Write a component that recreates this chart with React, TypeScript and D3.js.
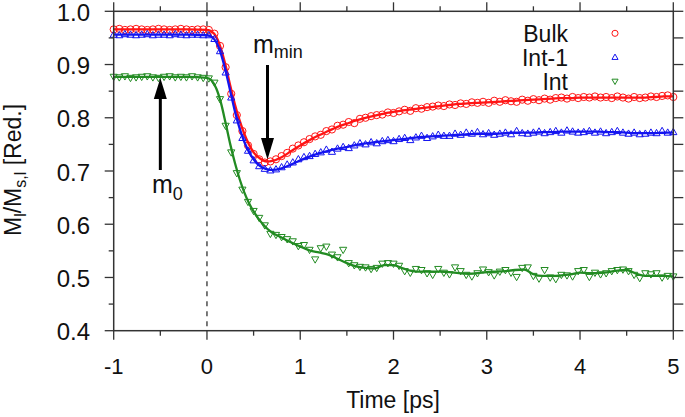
import React from 'react';
import * as d3 from 'd3';

// ---------- data ----------
const time = [
  -1.00, -0.94, -0.88, -0.82, -0.76, -0.70, -0.64, -0.58, -0.52, -0.46,
  -0.40, -0.34, -0.28, -0.22, -0.16, -0.10, -0.04, 0.02, 0.08, 0.14,
  0.20, 0.26, 0.32, 0.38, 0.44, 0.50, 0.56, 0.62, 0.68, 0.74,
  0.80, 0.86, 0.92, 0.98, 1.04, 1.10, 1.16, 1.22, 1.28, 1.34,
  1.40, 1.46, 1.52, 1.58, 1.64, 1.70, 1.76, 1.82, 1.88, 1.94,
  2.00, 2.06, 2.12, 2.18, 2.24, 2.30, 2.36, 2.42, 2.48, 2.54,
  2.60, 2.66, 2.72, 2.78, 2.84, 2.90, 2.96, 3.02, 3.08, 3.14,
  3.20, 3.26, 3.32, 3.38, 3.44, 3.50, 3.56, 3.62, 3.68, 3.74,
  3.80, 3.86, 3.92, 3.98, 4.04, 4.10, 4.16, 4.22, 4.28, 4.34,
  4.40, 4.46, 4.52, 4.58, 4.64, 4.70, 4.76, 4.82, 4.88, 4.94,
  5.00,
];

const bulkPts = [
  0.966, 0.967, 0.965, 0.966, 0.967, 0.966, 0.965, 0.966, 0.967, 0.966,
  0.965, 0.966, 0.967, 0.966, 0.965, 0.966, 0.966, 0.965, 0.958, 0.935,
  0.895, 0.845, 0.805, 0.775, 0.748, 0.732, 0.722, 0.716, 0.718, 0.722,
  0.728, 0.734, 0.742, 0.748, 0.754, 0.760, 0.765, 0.768, 0.775, 0.778,
  0.785, 0.787, 0.792, 0.790, 0.798, 0.800, 0.803, 0.805, 0.806, 0.810,
  0.809, 0.812, 0.815, 0.813, 0.818, 0.817, 0.820, 0.821, 0.823, 0.822,
  0.825, 0.824, 0.827, 0.826, 0.829, 0.828, 0.830, 0.828, 0.832, 0.830,
  0.833, 0.831, 0.830, 0.834, 0.832, 0.835, 0.833, 0.836, 0.834, 0.837,
  0.838, 0.836, 0.839, 0.837, 0.839, 0.838, 0.840, 0.838, 0.839, 0.837,
  0.840, 0.838, 0.836, 0.839, 0.837, 0.838, 0.840, 0.839, 0.841, 0.842,
  0.839,
];

const int1Pts = [
  0.956, 0.955, 0.957, 0.956, 0.955, 0.956, 0.957, 0.955, 0.956, 0.956,
  0.955, 0.957, 0.956, 0.955, 0.956, 0.956, 0.955, 0.955, 0.948, 0.925,
  0.885, 0.838, 0.795, 0.762, 0.738, 0.720, 0.709, 0.704, 0.701, 0.703,
  0.707, 0.712, 0.716, 0.722, 0.726, 0.728, 0.732, 0.735, 0.740, 0.736,
  0.742, 0.745, 0.743, 0.748, 0.752, 0.750, 0.754, 0.752, 0.756, 0.758,
  0.756, 0.760, 0.762, 0.758, 0.763, 0.766, 0.762, 0.765, 0.768, 0.766,
  0.766, 0.770, 0.768, 0.772, 0.770, 0.773, 0.769, 0.771, 0.768, 0.770,
  0.772, 0.769, 0.775, 0.771, 0.770, 0.772, 0.774, 0.771, 0.773, 0.775,
  0.772, 0.776, 0.774, 0.772, 0.773, 0.775, 0.772, 0.774, 0.771, 0.773,
  0.775, 0.772, 0.770, 0.772, 0.769, 0.770, 0.772, 0.771, 0.775, 0.772,
  0.773,
];

const intPts = [
  0.877, 0.876, 0.878, 0.875, 0.876, 0.877, 0.878, 0.876, 0.875, 0.877,
  0.878, 0.876, 0.877, 0.876, 0.878, 0.876, 0.875, 0.874, 0.866, 0.835,
  0.785, 0.735, 0.696, 0.665, 0.642, 0.625, 0.612, 0.598, 0.582, 0.580,
  0.576, 0.572, 0.568, 0.559, 0.561, 0.552, 0.534, 0.555, 0.558, 0.543,
  0.538, 0.552, 0.527, 0.523, 0.520, 0.519, 0.516, 0.518, 0.526, 0.527,
  0.526, 0.522, 0.512, 0.509, 0.516, 0.514, 0.508, 0.505, 0.516, 0.509,
  0.506, 0.519, 0.512, 0.505, 0.502, 0.508, 0.515, 0.510, 0.504, 0.511,
  0.514, 0.509, 0.501, 0.518, 0.519, 0.503, 0.498, 0.514, 0.500, 0.497,
  0.505, 0.504, 0.502, 0.512, 0.514, 0.501, 0.509, 0.506, 0.508, 0.512,
  0.514, 0.515, 0.512, 0.505, 0.499, 0.508, 0.506, 0.508, 0.500, 0.503,
  0.502,
];

const fitTime = [
  -1, -0.5, -0.2, 0, 0.05, 0.1, 0.15, 0.2, 0.25, 0.3, 0.35, 0.4, 0.45, 0.5,
  0.55, 0.6, 0.65, 0.7, 0.8, 0.9, 1.0, 1.1, 1.2, 1.3, 1.4, 1.5, 1.6, 1.7,
  1.8, 1.9, 2.0, 2.1, 2.2, 2.3, 2.4, 2.5, 2.6, 2.7, 2.8, 2.9, 3.0, 3.1,
  3.2, 3.3, 3.4, 3.5, 3.6, 3.7, 3.8, 3.9, 4.0, 4.1, 4.2, 4.3, 4.4, 4.5,
  4.6, 4.7, 4.8, 4.9, 5.0,
];

const bulkFit = [
  0.966, 0.966, 0.966, 0.965, 0.962, 0.952, 0.930, 0.898, 0.860, 0.825, 0.795, 0.770, 0.750, 0.735,
  0.726, 0.720, 0.718, 0.719, 0.726, 0.737, 0.748, 0.758, 0.767, 0.775, 0.783, 0.789, 0.795, 0.800,
  0.804, 0.808, 0.811, 0.814, 0.816, 0.818, 0.820, 0.822, 0.824, 0.826, 0.827, 0.828, 0.829, 0.830,
  0.831, 0.832, 0.833, 0.834, 0.835, 0.836, 0.837, 0.837, 0.838, 0.838, 0.838, 0.838, 0.838, 0.838,
  0.838, 0.838, 0.839, 0.840, 0.840,
];

const int1Fit = [
  0.956, 0.956, 0.956, 0.955, 0.952, 0.942, 0.920, 0.888, 0.850, 0.812, 0.780, 0.755, 0.736, 0.722,
  0.712, 0.706, 0.703, 0.702, 0.705, 0.712, 0.720, 0.727, 0.733, 0.738, 0.742, 0.745, 0.749, 0.752,
  0.754, 0.756, 0.758, 0.760, 0.762, 0.764, 0.765, 0.766, 0.767, 0.768, 0.769, 0.770, 0.770, 0.770,
  0.771, 0.772, 0.772, 0.772, 0.773, 0.773, 0.774, 0.774, 0.774, 0.774, 0.774, 0.773, 0.773, 0.772,
  0.771, 0.771, 0.771, 0.772, 0.772,
];

const intFit = [
  0.877, 0.877, 0.877, 0.875, 0.870, 0.855, 0.828, 0.790, 0.750, 0.715, 0.685, 0.660, 0.640, 0.624,
  0.611, 0.600, 0.591, 0.584, 0.575, 0.566, 0.558, 0.551, 0.547, 0.543, 0.535, 0.527, 0.521, 0.518,
  0.517, 0.523, 0.523, 0.517, 0.512, 0.511, 0.511, 0.511, 0.510, 0.508, 0.507, 0.508, 0.510, 0.511,
  0.512, 0.514, 0.515, 0.506, 0.503, 0.503, 0.504, 0.506, 0.509, 0.508, 0.508, 0.510, 0.513, 0.514,
  0.507, 0.503, 0.503, 0.503, 0.502,
];

const xTicks = [-1, 0, 1, 2, 3, 4, 5];
const xMinor = [-0.5, 0.5, 1.5, 2.5, 3.5, 4.5];
const yTicks = [0.4, 0.5, 0.6, 0.7, 0.8, 0.9, 1.0];
const yMinor = [0.45, 0.55, 0.65, 0.75, 0.85, 0.95];
const seriesNames = ['Bulk', 'Int-1', 'Int'];
const seriesColors = ['#ff1414', '#1414f0', '#228b22'];

const FONT = '"Liberation Sans", Arial, Helvetica, sans-serif';

function Marker({ kind, cx, cy, color, s = 1 }: { kind: number; cx: number; cy: number; color: string; s?: number }) {
  if (kind === 0) return <circle cx={cx} cy={cy} r={3.6 * s} fill="none" stroke={color} strokeWidth={1} />;
  if (kind === 1)
    return (
      <path
        d={`M${cx},${cy - 3.8 * s}L${cx + 3.6 * s},${cy + 2.5 * s}L${cx - 3.6 * s},${cy + 2.5 * s}Z`}
        fill="none"
        stroke={color}
        strokeWidth={1}
      />
    );
  return (
    <path
      d={`M${cx},${cy + 3.8 * s}L${cx + 3.6 * s},${cy - 2.5 * s}L${cx - 3.6 * s},${cy - 2.5 * s}Z`}
      fill="none"
      stroke={color}
      strokeWidth={1}
    />
  );
}

export default function App() {
  const W = 685, H = 417;
  const x = d3.scaleLinear().domain([-1, 5]).range([113.7, 673.3]);
  const y = d3.scaleLinear().domain([0.4, 1.0]).range([330.7, 11.3]);
  const [xl, xr] = x.range();
  const [yb, yt] = y.range();

  const line = d3
    .line<[number, number]>()
    .x((d) => x(d[0]))
    .y((d) => y(d[1]))
    .curve(d3.curveMonotoneX);

  const pts = [bulkPts, int1Pts, intPts];
  const fits = [bulkFit, int1Fit, intFit];
  const axisColor = '#333';

  return (
    <svg
      width={W}
      height={H}
      viewBox={`0 0 ${W} ${H}`}
      style={{ position: 'absolute', left: 0, top: 0, background: '#fff', display: 'block' }}
      fontFamily={FONT}
    >
      <rect x={0} y={0} width={W} height={H} fill="#fff" />

      {/* dashed zero line */}
      <line x1={x(0)} x2={x(0)} y1={yt} y2={yb} stroke="#222" strokeWidth={1.2} strokeDasharray="5,5" />

      {/* series */}
      {pts.map((arr, k) => (
        <g key={k}>
          {arr.map((v, i) => (
            <Marker key={i} kind={k} cx={x(time[i])} cy={y(v)} color={seriesColors[k]} />
          ))}
          <path
            d={line(fitTime.map((t, i) => [t, fits[k][i]] as [number, number])) || ''}
            fill="none"
            stroke={seriesColors[k]}
            strokeWidth={2.3}
          />
        </g>
      ))}

      {/* frame */}
      <rect x={xl} y={yt} width={xr - xl} height={yb - yt} fill="none" stroke={axisColor} strokeWidth={1.5} />

      {/* x ticks */}
      {xTicks.map((t) => (
        <g key={'xt' + t}>
          <line x1={x(t)} x2={x(t)} y1={yb} y2={yb + 9} stroke={axisColor} strokeWidth={1.3} />
          <line x1={x(t)} x2={x(t)} y1={yt} y2={yt - 9} stroke={axisColor} strokeWidth={1.3} />
          <text x={x(t)} y={374} textAnchor="middle" fontSize={22} fill="#111">
            {t}
          </text>
        </g>
      ))}
      {xMinor.map((t) => (
        <g key={'xm' + t}>
          <line x1={x(t)} x2={x(t)} y1={yb} y2={yb + 5} stroke={axisColor} strokeWidth={1.3} />
          <line x1={x(t)} x2={x(t)} y1={yt} y2={yt - 5} stroke={axisColor} strokeWidth={1.3} />
        </g>
      ))}

      {/* y ticks */}
      {yTicks.map((t) => (
        <g key={'yt' + t}>
          <line x1={xl} x2={xl - 9} y1={y(t)} y2={y(t)} stroke={axisColor} strokeWidth={1.3} />
          <line x1={xr} x2={xr + 10} y1={y(t)} y2={y(t)} stroke={axisColor} strokeWidth={1.3} />
          <text x={90} y={y(t) + 9.5} textAnchor="end" fontSize={24} fill="#111">
            {t.toFixed(1)}
          </text>
        </g>
      ))}
      {yMinor.map((t) => (
        <g key={'ym' + t}>
          <line x1={xl} x2={xl - 5} y1={y(t)} y2={y(t)} stroke={axisColor} strokeWidth={1.3} />
          <line x1={xr} x2={xr + 10} y1={y(t)} y2={y(t)} stroke={axisColor} strokeWidth={1.3} />
        </g>
      ))}

      {/* axis titles */}
      <text x={393} y={408} textAnchor="middle" fontSize={23} fill="#111">
        Time [ps]
      </text>
      <text transform="translate(21,170) rotate(-90)" textAnchor="middle" fontSize={23} fill="#111">
        <tspan>M</tspan>
        <tspan fontSize={16} dy={5}>l</tspan>
        <tspan dy={-5}>/M</tspan>
        <tspan fontSize={16} dy={5}>s,l</tspan>
        <tspan dy={-5}> [Red.]</tspan>
      </text>

      {/* legend */}
      {seriesNames.map((n, k) => (
        <g key={n}>
          <text x={568} y={41.7 + k * 24} textAnchor="end" fontSize={23} fill="#111">
            {n}
          </text>
          <Marker kind={k} cx={615} cy={33.3 + k * 24} color={seriesColors[k]} s={0.85} />
        </g>
      ))}

      {/* m0 annotation */}
      <line x1={x(-0.5)} x2={x(-0.5)} y1={170} y2={95} stroke="#000" strokeWidth={3} />
      <path d={`M${x(-0.5)},78 L${x(-0.5) + 6.5},99 L${x(-0.5) - 6.5},99 Z`} fill="#000" />
      <text x={152} y={193} fontSize={25} fill="#111">
        <tspan>m</tspan>
        <tspan fontSize={18} dy={7}>0</tspan>
      </text>

      {/* mmin annotation */}
      <line x1={267.5} x2={267.5} y1={65} y2={142} stroke="#000" strokeWidth={3} />
      <path d={`M267.5,159.5 L274,138 L261,138 Z`} fill="#000" />
      <text x={253} y={53.3} fontSize={25} fill="#111">
        <tspan>m</tspan>
        <tspan fontSize={18} dy={5}>min</tspan>
      </text>
    </svg>
  );
}
